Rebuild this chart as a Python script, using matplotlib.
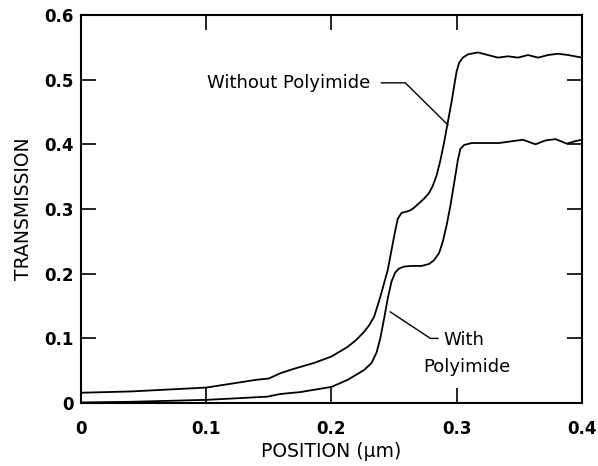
#!/usr/bin/env python3
import matplotlib
matplotlib.use('Agg')
import matplotlib.pyplot as plt

# Without Polyimide (upper curve)
x_without = [0.000, 0.020, 0.040, 0.060, 0.080, 0.100, 0.120, 0.140, 0.150, 0.159,
             0.170, 0.186, 0.200, 0.213, 0.220, 0.226, 0.230, 0.234, 0.239, 0.245,
             0.249, 0.251, 0.253, 0.256, 0.260, 0.263, 0.266, 0.270, 0.274, 0.278,
             0.281, 0.284, 0.287, 0.290, 0.293, 0.296, 0.298, 0.300, 0.302, 0.305,
             0.309, 0.317, 0.325, 0.333, 0.341, 0.349, 0.357, 0.365, 0.373, 0.381,
             0.389, 0.400]
y_without = [0.016, 0.017, 0.018, 0.020, 0.022, 0.024, 0.030, 0.036, 0.038, 0.046,
             0.053, 0.062, 0.072, 0.087, 0.098, 0.110, 0.120, 0.133, 0.164, 0.206,
             0.247, 0.267, 0.285, 0.294, 0.296, 0.298, 0.302, 0.309, 0.316, 0.325,
             0.336, 0.352, 0.375, 0.403, 0.435, 0.466, 0.490, 0.513, 0.526, 0.534,
             0.539, 0.542, 0.538, 0.534, 0.536, 0.534, 0.538, 0.534, 0.538, 0.540,
             0.538, 0.534]

# With Polyimide (lower curve)
x_with = [0.000, 0.040, 0.080, 0.100, 0.130, 0.149, 0.159, 0.175, 0.200, 0.213,
          0.226, 0.232, 0.236, 0.239, 0.242, 0.245, 0.248, 0.251, 0.254, 0.258,
          0.264, 0.272, 0.278, 0.282, 0.286, 0.289, 0.292, 0.295, 0.298, 0.301,
          0.303, 0.306, 0.312, 0.321, 0.334, 0.345, 0.353, 0.363, 0.371, 0.379,
          0.388, 0.395, 0.400]
y_with = [0.001, 0.002, 0.004, 0.005, 0.008, 0.010, 0.014, 0.017, 0.025, 0.036,
          0.051, 0.062, 0.078, 0.100, 0.130, 0.162, 0.188, 0.202, 0.208, 0.211,
          0.212, 0.212, 0.215, 0.221, 0.232, 0.250, 0.275, 0.305, 0.340, 0.376,
          0.393, 0.399, 0.402, 0.402, 0.402, 0.405, 0.407, 0.400, 0.406, 0.408,
          0.401, 0.405, 0.407]

x_ticks = [0, 0.1, 0.2, 0.3, 0.4]
x_tick_labels = ['0', '0.1', '0.2', '0.3', '0.4']
y_ticks = [0, 0.1, 0.2, 0.3, 0.4, 0.5, 0.6]
y_tick_labels = ['0', '0.1', '0.2', '0.3', '0.4', '0.5', '0.6']


def main():
    plt.rcParams['font.family'] = ['DejaVu Sans']
    plt.rcParams['font.size'] = 13

    fig = plt.figure(figsize=[5.98, 4.66], dpi=100)
    ax = fig.add_axes([0.1355, 0.135, 0.8375, 0.833])

    ax.plot(x_without, y_without, color='black', linewidth=1.3)
    ax.plot(x_with, y_with, color='black', linewidth=1.3)

    ax.set_xlim(0, 0.4)
    ax.set_ylim(0, 0.6)

    # Axis ticks: inward on all four sides
    ax.set_xticks(x_ticks)
    ax.set_xticklabels(x_tick_labels, fontweight='bold', fontsize=12)
    ax.set_yticks(y_ticks)
    ax.set_yticklabels(y_tick_labels, fontweight='bold', fontsize=12)
    ax.tick_params(axis='x', direction='in', length=11, width=1.2,
                   top=True, bottom=True, pad=12)
    ax.tick_params(axis='y', direction='in', length=11, width=1.2,
                   left=True, right=True, pad=5)
    for spine in ax.spines.values():
        spine.set_linewidth(1.5)

    # Annotations
    ax.text(0.101, 0.495, 'Without Polyimide', ha='left', va='center')
    ax.plot([0.240, 0.259, 0.293], [0.495, 0.495, 0.430],
            color='black', linewidth=1.0)

    ax.text(0.306, 0.090, 'With', ha='center', va='baseline')
    ax.text(0.308, 0.048, 'Polyimide', ha='center', va='baseline')
    ax.plot([0.247, 0.279, 0.285], [0.141, 0.100, 0.100],
            color='black', linewidth=1.0)

    ax.set_xlabel('POSITION (µm)', fontsize=13.5, labelpad=3)
    ax.set_ylabel('TRANSMISSION', fontsize=13.5, labelpad=8)

    plt.savefig('out.png', dpi=100)


if __name__ == '__main__':
    main()
